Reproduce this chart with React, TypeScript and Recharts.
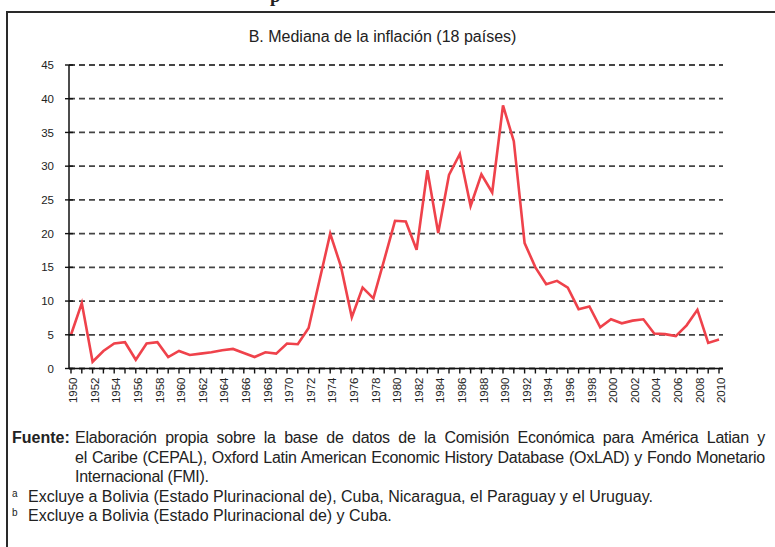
import React from "react";
import { LineChart, Line, XAxis, YAxis, CartesianGrid } from "recharts";

const years = [
  1950, 1951, 1952, 1953, 1954, 1955, 1956, 1957, 1958, 1959,
  1960, 1961, 1962, 1963, 1964, 1965, 1966, 1967, 1968, 1969,
  1970, 1971, 1972, 1973, 1974, 1975, 1976, 1977, 1978, 1979,
  1980, 1981, 1982, 1983, 1984, 1985, 1986, 1987, 1988, 1989,
  1990, 1991, 1992, 1993, 1994, 1995, 1996, 1997, 1998, 1999,
  2000, 2001, 2002, 2003, 2004, 2005, 2006, 2007, 2008, 2009, 2010,
];

const inflation = [
  5.0, 9.7, 1.0, 2.6, 3.7, 3.9, 1.3, 3.7, 3.9, 1.7,
  2.6, 2.0, 2.2, 2.4, 2.7, 2.9, 2.3, 1.7, 2.4, 2.2,
  3.7, 3.6, 6.0, 13.0, 20.0, 15.1, 7.6, 12.0, 10.4, 16.1,
  21.9, 21.8, 17.6, 29.4, 20.1, 28.7, 31.8, 24.1, 28.8, 26.1,
  39.0, 33.7, 18.6, 15.0, 12.5, 13.0, 12.0, 8.8, 9.2, 6.1,
  7.3, 6.7, 7.1, 7.3, 5.2, 5.1, 4.8, 6.4, 8.7, 3.8, 4.3,
];

const labelYears = [
  1950, 1952, 1954, 1956, 1958, 1960, 1962, 1964, 1966, 1968,
  1970, 1972, 1974, 1976, 1978, 1980, 1982, 1984, 1986, 1988,
  1990, 1992, 1994, 1996, 1998, 2000, 2002, 2004, 2006, 2008, 2010,
];

const yTicks = [0, 5, 10, 15, 20, 25, 30, 35, 40, 45];

const data = years.map((year, i) => ({ year, value: inflation[i] }));

const FONT = '"Liberation Sans", Arial, Helvetica, sans-serif';

function YTick(props: any) {
  const { x, y, payload } = props;
  return (
    <g>
      <line x1={x - 4} x2={x + 4} y1={y} y2={y} stroke="#111" strokeWidth={1.4} />
      <text x={x - 15} y={y} dy="0.36em" textAnchor="end" fontSize={11.5} fill="#222" fontFamily={FONT}>
        {payload.value}
      </text>
    </g>
  );
}

function XTick(props: any) {
  const { x, y, payload } = props;
  const showLabel = labelYears.includes(payload.value);
  return (
    <g>
      <line x1={x} x2={x} y1={y} y2={y + 5} stroke="#111" strokeWidth={1.4} />
      {showLabel && (
        <text
          transform={`translate(${x + 2}, ${y + 9}) rotate(-90)`}
          dy="0.36em"
          textAnchor="end"
          fontSize={11.5}
          fill="#222"
          fontFamily={FONT}
        >
          {payload.value}
        </text>
      )}
    </g>
  );
}

const justified: React.CSSProperties = { textAlign: "justify", textAlignLast: "justify" };

export default function App() {
  return (
    <div
      style={{
        position: "fixed",
        left: 0,
        top: 0,
        width: 775,
        height: 547,
        overflow: "hidden",
        background: "#fff",
        fontFamily: FONT,
        color: "#222",
      }}
    >
      {/* cut-off heading of the page above */}
      <div
        style={{
          position: "absolute",
          top: -15,
          left: 270,
          fontFamily: '"Liberation Serif", serif',
          fontWeight: 700,
          fontSize: 19,
        }}
      >
        p
      </div>
      <div
        style={{
          position: "absolute",
          left: 6,
          top: 11,
          width: 800,
          height: 600,
          borderLeft: "2px solid #2a2a2a",
          borderTop: "2px solid #2a2a2a",
          boxSizing: "border-box",
        }}
      />
      <div
        style={{
          position: "absolute",
          top: 28,
          left: 0,
          width: 765,
          textAlign: "center",
          fontSize: 16,
        }}
      >
        B. Mediana de la inflación (18 países)
      </div>
      <div style={{ position: "absolute", left: 0, top: 0 }}>
        <LineChart width={775} height={420} data={data} margin={{ top: 65, right: 52, bottom: 0, left: 0 }}>
          <CartesianGrid
            horizontal
            vertical={false}
            stroke="#444"
            strokeWidth={1.8}
            strokeDasharray="6 4"
          />
          <XAxis
            dataKey="year"
            type="number"
            domain={[1949.815, 2010.37]}
            ticks={years}
            interval={0}
            height={51.5}
            tickSize={0}
            tickMargin={0}
            tickLine={false}
            stroke="#111"
            strokeWidth={1.5}
            tick={<XTick />}
          />
          <YAxis
            width={69}
            domain={[0, 45]}
            ticks={yTicks}
            interval={0}
            tickSize={0}
            tickMargin={0}
            tickLine={false}
            stroke="#111"
            strokeWidth={1.5}
            tick={<YTick />}
          />
          <Line
            type="linear"
            dataKey="value"
            stroke="#ef424b"
            strokeWidth={2.6}
            dot={false}
            isAnimationActive={false}
          />
        </LineChart>
      </div>
      <div style={{ position: "absolute", left: 12, top: 428, fontSize: 16, lineHeight: "19.5px", width: 753 }}>
        <div style={{ display: "flex" }}>
          <span style={{ fontWeight: 700, width: 63, flexShrink: 0 }}>Fuente:</span>
          <div style={{ flex: 1, letterSpacing: -0.25 }}>
            <div style={justified}>
              Elaboración propia sobre la base de datos de la Comisión Económica para América Latian y
            </div>
            <div style={justified}>
              el Caribe (CEPAL), Oxford Latin American Economic History Database (OxLAD) y Fondo Monetario
            </div>
            <div>Internacional (FMI).</div>
          </div>
        </div>
        <div style={{ display: "flex" }}>
          <span style={{ width: 16, fontSize: 10, lineHeight: "14px", flexShrink: 0 }}>a</span>
          <span>Excluye a Bolivia (Estado Plurinacional de), Cuba, Nicaragua, el Paraguay y el Uruguay.</span>
        </div>
        <div style={{ display: "flex" }}>
          <span style={{ width: 16, fontSize: 10, lineHeight: "14px", flexShrink: 0 }}>b</span>
          <span>Excluye a Bolivia (Estado Plurinacional de) y Cuba.</span>
        </div>
      </div>
    </div>
  );
}
